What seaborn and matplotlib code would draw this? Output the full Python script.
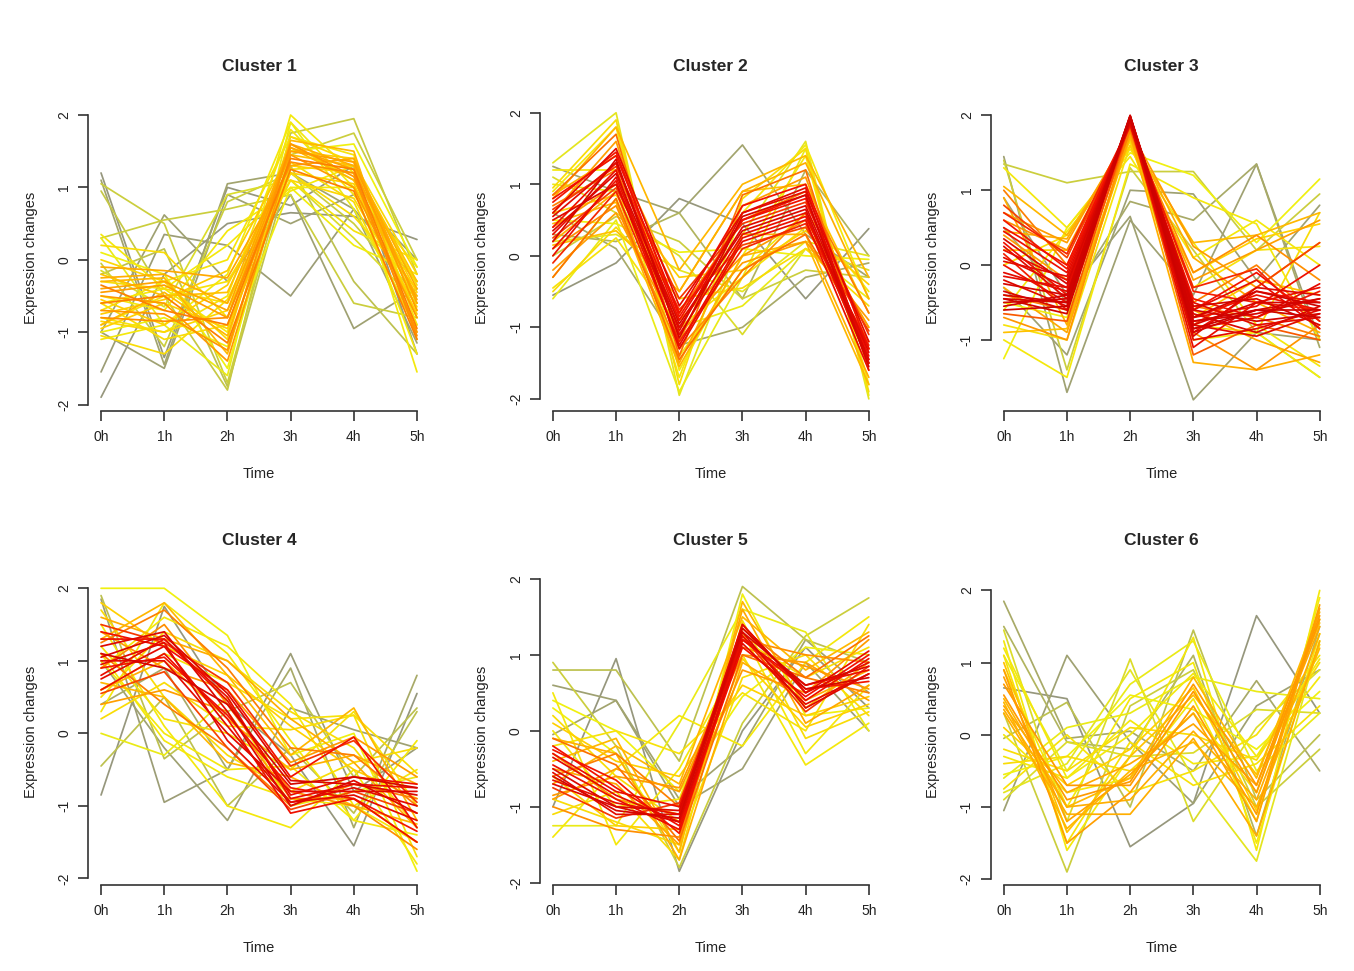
import numpy as np
import pandas as pd
import matplotlib
matplotlib.use("Agg")
import matplotlib.pyplot as plt
from matplotlib.colors import LinearSegmentedColormap
import seaborn as sns

# time points
time_labels = ["0h", "1h", "2h", "3h", "4h", "5h"]

# standardised expression profiles (one row per gene) and their membership values
c1_profiles = [
    [1.2, -1.35, 1.0, 0.75, 1.3, -1.3], [-1.9, -0.2, 0.5, 0.65, 0.6, 0.28],
    [-1.55, 0.35, 0.2, -0.5, 0.7, -0.3], [-1.0, 0.62, -0.3, 0.9, -0.95, -0.4],
    [1.1, -1.45, 1.05, 1.2, 0.7, -1.15], [-1.0, -1.5, 0.9, 0.5, 0.9, 0.0],
    [0.95, -0.5, -1.8, 1.75, 1.95, -0.2], [1.05, 0.5, -1.7, 1.45, 1.75, 0.0],
    [0.3, 0.55, 0.7, 0.9, -0.6, -0.8], [-0.2, 0.15, -1.75, 1.3, -0.3, -1.3],
    [-0.05, -1.2, 0.8, 1.2, 0.5, -0.5], [0.35, -0.4, -1.0, 2.0, 1.2, -1.55],
    [-1.1, -0.9, -0.2, 1.9, 1.0, -1.3], [-0.8, -1.0, -0.5, 1.8, 0.9, -0.3],
    [0.1, -0.2, -1.5, 1.5, 1.6, -0.1], [-0.5, -0.7, 0.4, 0.95, 1.3, -0.8],
    [-0.9, -0.5, -0.3, 1.1, 0.4, 0.0], [0.2, 0.1, -0.8, 1.6, 1.1, -0.6],
    [-0.6, -1.1, -0.9, 1.35, 0.8, -1.0], [-0.3, -0.4, -0.6, 1.2, 0.6, -0.4],
    [-1.0, -0.8, -1.2, 1.0, 0.2, -0.2], [-0.7, -0.3, 0.0, 1.7, 1.45, -0.9],
    [-0.25, -0.2, -0.6, 1.6, 1.3, -0.4], [-0.45, -0.35, -0.8, 1.5, 1.35, -0.7],
    [-0.8, -0.85, -0.8, 1.35, 1.2, -1.05], [-0.5, -0.6, -1.4, 1.45, 1.0, -0.8],
    [-0.1, -0.15, -0.25, 1.3, 1.4, -0.6], [-0.6, -0.5, -1.15, 1.25, 0.95, -1.1],
    [-0.35, -0.7, -0.9, 1.4, 1.25, -0.95], [-0.9, -0.45, -1.05, 1.55, 1.1, -0.5],
    [-0.4, -0.3, -0.7, 1.55, 1.25, -0.55], [-0.7, -0.75, -1.25, 1.6, 1.15, -1.0],
    [-0.2, -0.5, -0.45, 1.45, 1.3, -0.3], [-0.95, -0.6, -0.95, 1.2, 1.05, -0.75],
    [-0.55, -0.9, -0.35, 1.3, 1.2, -0.45], [0.0, -0.3, -1.1, 1.7, 1.35, -0.2],
    [-0.85, -1.0, -0.7, 1.1, 0.85, -0.65], [-0.3, -0.25, -1.3, 1.65, 1.5, -1.1],
    [-0.6, -0.4, 0.2, 1.0, 1.0, -0.1], [0.3, -0.9, -1.6, 1.9, 0.7, -0.9],
    [-0.15, -0.65, 0.9, 1.1, 0.3, -0.6], [-1.05, -1.3, -0.55, 1.25, 1.3, -0.35],
    [-0.75, -0.55, -0.15, 1.5, 1.4, -0.7],
]
c1_membership = [0.05, 0.05, 0.08, 0.1, 0.12, 0.1, 0.28, 0.3, 0.3, 0.25, 0.3,
                 0.45, 0.45, 0.47, 0.42, 0.45, 0.48, 0.5, 0.5, 0.5, 0.43, 0.47,
                 0.62, 0.65, 0.68, 0.66, 0.63, 0.7, 0.7, 0.6,
                 0.64, 0.67, 0.58, 0.55, 0.55, 0.52, 0.52, 0.6, 0.45, 0.4, 0.35,
                 0.5, 0.56]

c2_profiles = [
    [-0.55, -0.1, 0.8, 0.45, -0.6, 0.38], [1.25, 0.9, 0.6, 1.55, 0.3, -0.3],
    [0.6, 0.1, -1.25, -1.0, -0.3, -0.1], [0.3, 0.2, 0.6, -0.6, 1.2, 0.0],
    [1.3, 2.0, -1.95, 0.3, 1.6, -2.0], [-0.6, 0.5, -1.9, -0.3, 1.5, -1.95],
    [1.1, 0.6, 0.0, -1.1, 0.1, -0.2], [0.2, 0.3, -0.2, -0.5, 0.2, 0.0],
    [0.0, 0.55, 0.2, -0.6, -0.2, -0.3], [0.9, 1.8, -1.6, 0.0, 1.4, -1.8],
    [-0.3, 0.8, -1.4, -0.2, 0.6, -0.5], [0.5, 0.45, 0.05, 0.1, 0.0, -0.05],
    [1.2, 1.2, -1.7, 0.6, 1.55, -0.6], [-0.45, 0.25, -1.0, -0.3, 0.4, -1.0],
    [0.8, 1.8, -0.2, 1.0, 1.4, -0.3], [0.85, 1.4, -0.5, 0.9, 1.3, -0.6],
    [0.2, 0.9, -1.5, 0.3, 0.3, -1.7], [-0.2, 0.6, -1.1, -0.1, 0.2, -0.9],
    [0.6, 1.6, -1.2, 0.7, 1.1, -1.3], [0.4, 1.0, -0.9, 0.0, 0.5, -1.0],
    [0.1, 0.7, -1.3, -0.3, 0.6, -1.5], [0.7, 1.2, -0.8, 0.5, 0.9, -0.8],
    [0.4, 1.3, -0.9, 0.5, 0.8, -1.4], [0.0, 1.1, -1.1, 0.3, 0.6, -1.5],
    [0.6, 1.5, -0.7, 0.6, 0.9, -1.2], [0.3, 1.2, -1.3, 0.2, 0.5, -1.6],
    [0.8, 1.4, -0.8, 0.7, 1.0, -1.3], [0.5, 1.0, -1.0, 0.4, 0.7, -1.35],
    [0.2, 1.35, -1.15, 0.55, 0.85, -1.55], [-0.1, 0.9, -1.2, 0.1, 0.45, -1.25],
    [0.65, 1.25, -0.6, 0.45, 0.75, -1.1],
    [0.35, 1.15, -0.95, 0.35, 0.65, -1.45], [0.55, 1.3, -1.05, 0.6, 0.95, -1.5],
    [0.1, 1.05, -1.25, 0.25, 0.55, -1.3], [0.75, 1.45, -0.85, 0.5, 0.85, -1.45],
    [0.25, 0.95, -0.75, 0.15, 0.4, -1.05], [-0.3, 0.8, -1.45, -0.2, 0.3, -1.2],
    [0.85, 1.7, -1.4, 0.85, 1.2, -1.6], [0.45, 0.75, -1.55, 0.0, 0.2, -1.8],
    [0.95, 1.9, -1.8, 0.8, 1.5, -1.9], [-0.5, 0.4, -0.6, -0.45, 0.1, -0.7],
    [0.6, 0.85, -0.3, -0.2, 0.35, -0.4], [1.0, 0.9, -1.0, -0.7, 0.1, -0.6],
    [0.15, 0.35, -0.5, 0.9, 1.0, -0.8],
]
c2_membership = [0.05, 0.12, 0.15, 0.2, 0.38, 0.4, 0.35, 0.38, 0.3, 0.45, 0.45,
                 0.42, 0.45, 0.48, 0.6, 0.62, 0.62, 0.65, 0.65, 0.66, 0.68, 0.7,
                 0.85, 0.88, 0.9, 0.88, 0.85, 0.92, 0.95, 0.82, 0.8,
                 0.93, 0.9, 0.87, 0.84, 0.78, 0.72, 0.72, 0.6, 0.5, 0.5, 0.55,
                 0.4, 0.58]

c3_profiles = [
    [1.45, -1.7, 0.6, -0.4, 1.35, -1.0], [0.9, -0.4, 0.65, -1.8, -0.9, -1.0],
    [-0.3, -1.2, 1.0, 0.95, -0.2, 0.8], [1.35, 1.1, 1.25, 1.25, 0.2, 0.95],
    [0.5, -0.5, 0.85, 0.6, 1.35, -1.1], [1.4, -1.4, 1.3, 0.2, -0.9, -1.5],
    [-1.25, 0.5, 1.5, 1.2, 0.3, 1.15], [-1.0, -1.5, 1.35, 0.9, 0.55, -1.0],
    [-0.6, 0.45, 1.45, 0.1, 0.6, 0.0], [-0.8, -1.0, 1.6, -0.3, 0.2, 0.25],
    [1.3, 0.5, 1.55, 0.3, -0.8, -1.35], [-0.5, -0.7, 1.7, -1.0, -0.9, -1.5],
    [0.0, 0.4, 1.65, -0.8, -0.9, 0.7], [1.05, 0.4, 1.7, 0.3, 0.4, 0.7],
    [0.9, -0.8, 1.75, -1.3, -1.4, -1.2], [0.7, 0.3, 1.8, -0.2, 0.2, 0.6],
    [-0.3, -0.9, 1.75, -0.6, -1.0, -1.3], [0.4, -0.2, 1.8, 0.25, -0.3, 0.3],
    [-0.7, -1.0, 1.85, -0.9, -1.4, -0.8], [0.6, 0.2, 1.8, -0.1, 0.4, -0.2],
    [-0.4, -0.6, 1.8, -0.55, -0.7, -0.95], [0.3, -0.4, 1.9, -0.7, -0.4, -0.6],
    [-0.45, -0.5, 2.0, -0.8, -0.5, -0.5], [0.1, -0.3, 1.95, -0.5, -0.8, -0.7],
    [-0.2, -0.55, 1.95, -0.95, -0.3, -0.4], [0.5, 0.0, 1.9, -0.6, -0.1, -0.75],
    [-0.5, -0.45, 2.0, -0.75, -0.6, -0.6], [0.2, -0.2, 1.92, -1.1, -0.5, -0.3],
    [-0.35, -0.6, 1.98, -0.65, -0.9, -0.55], [0.7, 0.15, 1.88, -0.3, -0.05, -0.85],
    [-0.1, -0.35, 1.97, -0.85, -0.7, -0.25], [0.0, -0.5, 1.96, -0.7, -0.55, 0.0],
    [-0.55, -0.4, 1.99, -0.6, -0.75, -0.65], [0.45, -0.1, 1.9, -0.9, -0.35, -0.5],
    [-0.6, -0.55, 1.98, -0.85, -0.6, -0.7], [0.35, -0.25, 1.93, -0.75, -0.65, -0.45],
    [-0.25, -0.4, 1.96, -0.55, -0.45, -0.8], [0.05, -0.15, 1.9, -1.0, -0.85, -0.6],
    [-0.45, -0.65, 1.99, -0.7, -0.35, -0.55], [0.6, -0.05, 1.87, -0.45, -0.7, -0.35],
    [0.25, -0.45, 1.94, -0.8, -0.95, -0.65], [-0.15, -0.3, 1.95, -0.6, -0.2, -0.85],
    [-0.4, -0.5, 1.97, -0.9, -0.6, -0.45], [0.15, -0.6, 1.92, -0.35, -0.5, -0.6],
    [0.8, 0.1, 1.85, -0.8, -0.3, 0.3], [-0.65, -0.75, 1.9, -1.2, -0.8, -1.0],
    [0.45, 0.35, 1.78, 0.1, -0.5, -0.9], [-0.9, -0.85, 1.7, -0.7, -0.2, -0.4],
    [1.0, 0.0, 1.82, -0.5, 0.0, -0.75], [0.2, 0.2, 1.6, -0.1, 0.35, 0.55],
]
c3_membership = [0.1, 0.1, 0.1, 0.3, 0.15, 0.3, 0.42, 0.45, 0.45, 0.48, 0.45,
                 0.42, 0.5, 0.6, 0.62, 0.65, 0.63, 0.66, 0.67, 0.68, 0.7, 0.85,
                 0.95, 0.9, 0.92, 0.85, 0.97, 0.88, 0.93, 0.82, 0.9, 0.86, 0.96,
                 0.87,
                 0.98, 0.94, 0.95, 0.9, 0.97, 0.84, 0.91, 0.89, 0.96, 0.83, 0.78,
                 0.75, 0.62, 0.58, 0.7, 0.55]

c4_profiles = [
    [-0.85, 1.75, 0.4, -0.3, -1.55, 0.55], [1.85, -0.95, -0.5, 1.1, -0.8, -0.2],
    [1.0, -0.2, -1.2, 0.35, 0.05, -0.2], [0.4, 0.9, -0.5, 0.9, -1.3, 0.8],
    [1.9, -0.35, 0.3, 0.7, -0.6, 0.35], [-0.45, 0.5, -1.0, -0.2, -1.1, 0.3],
    [2.0, 2.0, 1.35, -0.3, 0.0, -1.9], [1.5, 0.1, -1.0, -1.3, -0.5, -1.8],
    [0.3, 1.8, 1.1, -0.1, -1.2, -0.1], [1.2, 0.2, 0.0, -0.5, 0.3, -1.0],
    [0.0, -0.3, 0.5, -1.0, -0.8, -0.6], [0.9, 1.6, 1.2, 0.4, -1.0, -1.5],
    [1.7, 0.5, -0.3, -0.8, -0.4, -0.2], [0.6, 1.1, 0.7, 0.2, 0.25, -1.7],
    [1.1, -0.1, -0.6, -0.9, -1.0, -0.5], [1.3, 1.8, 0.8, -0.3, 0.35, -1.2],
    [0.6, 1.0, 0.2, -0.5, -0.3, -0.7], [1.6, 1.3, 1.0, 0.2, -0.4, -1.3],
    [0.4, 0.6, 0.3, -0.9, -0.9, -1.5], [1.4, 0.9, 0.6, -0.4, -0.05, -0.6],
    [0.9, 1.5, 0.4, -0.8, -1.0, -1.6], [1.1, 0.4, -0.2, -1.0, -0.7, -0.9],
    [0.8, 1.3, 0.5, -0.9, -0.7, -0.75], [1.2, 1.4, 0.3, -1.0, -0.65, -1.1],
    [1.0, 1.0, 0.0, -0.8, -0.8, -0.8], [1.4, 1.2, 0.6, -0.6, -0.05, -1.3],
    [0.6, 1.1, 0.2, -1.1, -0.9, -1.5], [1.1, 0.9, 0.4, -0.7, -0.6, -0.75],
    [0.95, 1.25, -0.1, -0.95, -0.75, -1.0],
    [1.05, 1.35, 0.55, -0.65, -0.7, -0.85], [0.75, 1.2, 0.1, -0.95, -0.85, -1.2],
    [1.3, 1.3, 0.45, -0.85, -0.6, -0.7], [0.9, 1.05, 0.25, -0.75, -0.9, -1.35],
    [1.5, 1.25, 0.7, -0.45, -0.1, -0.95], [0.55, 0.85, -0.2, -1.05, -0.8, -1.1],
    [1.25, 1.7, 0.9, -0.2, -0.3, -1.0], [0.7, 0.5, -0.4, -0.6, -1.0, -1.25],
    [1.8, 1.2, 0.8, 0.1, -0.5, -0.9], [0.5, 1.4, 1.0, 0.3, -0.2, -1.3],
    [1.0, 0.0, -0.5, -0.45, -1.2, -1.4], [0.2, 0.7, 0.1, 0.05, 0.25, -0.55],
]
c4_membership = [0.05, 0.08, 0.1, 0.15, 0.25, 0.25, 0.42, 0.45, 0.45, 0.48, 0.4,
                 0.45, 0.5, 0.48, 0.45, 0.6, 0.62, 0.62, 0.65, 0.66, 0.68, 0.7,
                 0.88, 0.92, 0.9, 0.85, 0.86, 0.95, 0.9,
                 0.93, 0.9, 0.87, 0.84, 0.8, 0.78, 0.7, 0.6, 0.55, 0.5, 0.45,
                 0.5]

c5_profiles = [
    [-1.0, 0.95, -1.85, 0.0, 1.1, 0.3], [0.6, 0.4, -1.0, -0.5, 0.9, 0.0],
    [-0.05, 0.4, -0.9, -0.2, 1.2, 0.5], [0.8, 0.8, -0.4, 1.9, 1.2, 0.9],
    [0.9, -0.2, -1.8, 0.1, 1.25, 1.75], [-1.25, -1.25, 0.1, 1.6, 1.3, 0.0],
    [-1.4, -0.5, 0.2, -0.2, 0.9, 1.5], [0.5, -1.5, -0.5, 1.0, -0.45, 0.1],
    [0.3, -0.3, -1.6, 1.8, 0.2, 0.3], [-0.2, 0.0, -0.3, 0.5, 0.0, 1.4],
    [0.0, -1.0, -0.9, 1.3, -0.3, 0.6], [-0.9, -1.2, -1.5, 0.7, 1.0, 0.2],
    [0.2, -0.6, -1.2, 1.2, 0.7, 1.1], [-0.7, -0.2, -0.7, 1.5, 0.8, 1.3],
    [-0.1, -0.3, -1.7, 0.9, 0.4, 0.8], [-0.9, -0.5, -0.8, 1.0, 0.9, 0.4],
    [-0.5, -0.7, -1.5, 1.6, 0.1, 0.6], [-0.3, -0.9, -1.1, 0.8, 0.5, 1.2],
    [-1.0, -1.3, -1.4, 1.2, 1.0, 0.9], [-0.6, -0.3, -1.0, 1.35, 0.7, 0.5],
    [-0.55, -1.1, -1.1, 1.4, 0.5, 0.9], [-0.3, -0.8, -1.0, 1.2, 0.6, 0.8],
    [-0.7, -1.0, -1.2, 1.3, 0.3, 0.75], [-0.2, -0.75, -1.25, 1.1, 0.45, 1.0],
    [-0.6, -1.05, -1.15, 1.35, 0.55, 0.7], [-0.45, -0.9, -1.3, 1.25, 0.4, 0.95],
    [-0.5, -1.0, -1.05, 1.3, 0.6, 0.85], [-0.35, -0.85, -1.2, 1.15, 0.35, 0.75],
    [-0.65, -0.95, -1.1, 1.4, 0.5, 1.05], [-0.25, -0.65, -1.35, 1.2, 0.55, 0.65],
    [-0.75, -1.15, -0.95, 1.25, 0.25, 0.85], [-0.1, -0.45, -1.45, 1.0, 0.7, 1.25],
    [-0.85, -0.6, -0.75, 1.1, 0.85, 0.55], [-0.4, -0.1, -1.6, 1.7, 0.3, 0.9],
    [0.1, -0.4, -0.6, 0.6, 0.2, 0.45], [-0.6, -1.25, -1.3, 0.95, 0.05, 0.35],
    [0.4, 0.0, -0.8, 0.45, 1.1, 1.0], [-1.1, -0.8, -1.7, 1.45, -0.1, 0.25],
]
c5_membership = [0.05, 0.1, 0.12, 0.25, 0.3, 0.4, 0.45, 0.45, 0.42, 0.48, 0.45,
                 0.5, 0.5, 0.6, 0.62, 0.65, 0.63, 0.66, 0.68, 0.7, 0.9, 0.88,
                 0.92, 0.85, 0.95, 0.87,
                 0.93, 0.9, 0.88, 0.84, 0.8, 0.72, 0.66, 0.6, 0.55, 0.55, 0.42,
                 0.5]

c6_profiles = [
    [0.65, 0.5, -1.55, -0.95, 1.65, 0.3], [-1.05, 1.1, -0.1, -0.95, 0.4, 0.9],
    [1.85, -0.05, 0.05, -0.5, 0.75, -0.5], [1.5, -0.1, -0.2, 1.1, -1.4, 1.5],
    [-0.05, 0.45, -1.0, 1.45, -0.9, 0.0], [0.3, -1.9, 0.4, 0.9, -1.0, -0.2],
    [1.45, -1.2, 1.05, -1.2, 0.1, 0.9], [-0.8, -0.4, 0.9, -0.6, -1.75, 1.3],
    [1.1, -0.5, 0.7, 1.3, -0.5, 0.3], [-0.6, 0.1, 0.3, 0.8, 0.6, 0.5],
    [1.3, -1.6, -0.3, 1.35, -1.6, 2.0], [-0.3, -0.6, 0.2, -0.4, -0.3, 0.8],
    [0.0, -0.8, -0.6, 0.5, -1.2, 1.9], [-0.75, 0.0, -0.8, -0.5, 0.0, 1.1],
    [0.9, -1.0, 0.5, 1.0, -1.5, 1.4], [-0.4, -0.3, -0.5, 0.3, -0.8, 1.6],
    [1.1, -1.5, -0.1, -0.7, -0.4, 0.4], [0.5, -1.0, -0.6, 0.8, -0.6, 1.7],
    [0.9, -1.5, -0.8, 0.4, -1.1, 1.8], [0.4, -0.8, -0.4, 0.15, -0.7, 1.5],
    [0.3, -1.1, -1.1, -0.05, -1.4, 1.3], [0.7, -0.7, -0.7, 0.6, -0.8, 1.6],
    [0.45, -1.3, -0.5, -0.1, -1.0, 1.2],
    [0.55, -0.9, -0.65, 0.7, -0.7, 1.65], [0.8, -1.2, -0.55, 0.3, -1.2, 1.75],
    [0.35, -1.0, -0.9, 0.05, -0.9, 1.4], [1.0, -1.35, -0.3, 0.55, -0.55, 1.55],
    [-0.2, -0.5, 0.1, 0.0, -0.35, 1.0], [0.1, -0.7, -0.2, 0.65, -1.05, 1.25],
    [-0.55, -0.3, 0.55, 0.35, -0.2, 0.6], [1.2, -0.6, 0.0, 0.85, -0.3, 1.05],
    [-0.9, -0.1, -0.3, -0.25, 0.35, 0.3],
]
c6_membership = [0.05, 0.1, 0.15, 0.2, 0.25, 0.3, 0.35, 0.38, 0.4, 0.4, 0.45,
                 0.45, 0.45, 0.48, 0.45, 0.5, 0.48, 0.6, 0.65, 0.63, 0.62, 0.66,
                 0.6,
                 0.66, 0.64, 0.62, 0.58, 0.5, 0.55, 0.42, 0.45, 0.35]

clusters = [
    ("Cluster 1", c1_profiles, c1_membership),
    ("Cluster 2", c2_profiles, c2_membership),
    ("Cluster 3", c3_profiles, c3_membership),
    ("Cluster 4", c4_profiles, c4_membership),
    ("Cluster 5", c5_profiles, c5_membership),
    ("Cluster 6", c6_profiles, c6_membership),
]

# layout (R-style data range + 4% padding)
ylims = [(-2.09, 2.15), (-2.17, 2.12), (-1.95, 2.15),
         (-2.09, 2.14), (-2.03, 2.01), (-2.08, 2.17)]
yticks = [[-2, -1, 0, 1, 2], [-2, -1, 0, 1, 2], [-1, 0, 1, 2],
          [-2, -1, 0, 1, 2], [-2, -1, 0, 1, 2], [-2, -1, 0, 1, 2]]
lefts = [0.0653, 0.399, 0.732]
bottoms = [0.5767, 0.0886]
ax_w, ax_h = 0.252, 0.316

membership_cmap = LinearSegmentedColormap.from_list(
    "membership",
    [(0.0, "#8e8e86"), (0.22, "#b4b85a"), (0.42, "#f0f010"),
     (0.55, "#ffd000"), (0.68, "#ff9000"), (0.85, "#f21000"), (1.0, "#c80000")])

sns.set_style("white")
plt.rcParams["font.family"] = ["Liberation Sans", "DejaVu Sans"]
axis_col = "#333333"

fig = plt.figure(figsize=(13.54, 9.71), dpi=100)

for i, (title, profiles, memb) in enumerate(clusters):
    ax = fig.add_axes([lefts[i % 3], bottoms[i // 3], ax_w, ax_h])
    rows = []
    for g, (vals, m) in enumerate(zip(profiles, memb)):
        for t, v in enumerate(vals):
            rows.append({"gene": g, "time": t, "value": v, "membership": m})
    df = pd.DataFrame(rows)

    sns.lineplot(data=df, x="time", y="value", units="gene", estimator=None,
                 hue="membership", palette=membership_cmap, hue_norm=(0, 1),
                 legend=False, lw=1.25, ax=ax)

    ax.set_xlim(-0.2, 5.2)
    ax.set_ylim(*ylims[i])
    ax.set_xticks(range(6))
    ax.set_xticklabels(time_labels)
    ax.set_yticks(yticks[i])
    ax.set_yticklabels([str(v) for v in yticks[i]], rotation=90, va="center")

    for side in ["top", "right"]:
        ax.spines[side].set_visible(False)
    ax.spines["left"].set_bounds(yticks[i][0], yticks[i][-1])
    ax.spines["bottom"].set_bounds(0, 5)
    for side in ["left", "bottom"]:
        ax.spines[side].set_color(axis_col)
        ax.spines[side].set_linewidth(1.2)
    ax.tick_params(axis="both", direction="out", length=7, width=1.2,
                   color=axis_col, labelsize=10, labelcolor="#222222",
                   bottom=True, left=True)
    ax.tick_params(axis="x", pad=7)
    ax.tick_params(axis="y", pad=5.5)

    ax.set_xlabel("Time", fontsize=10.5, labelpad=16, color="#222222")
    ax.set_ylabel("Expression changes", fontsize=10.5, labelpad=14, color="#222222")
    ax.set_title(title, fontsize=12.5, fontweight="bold", pad=24)

fig.savefig("out.png", dpi=100, facecolor="white")
